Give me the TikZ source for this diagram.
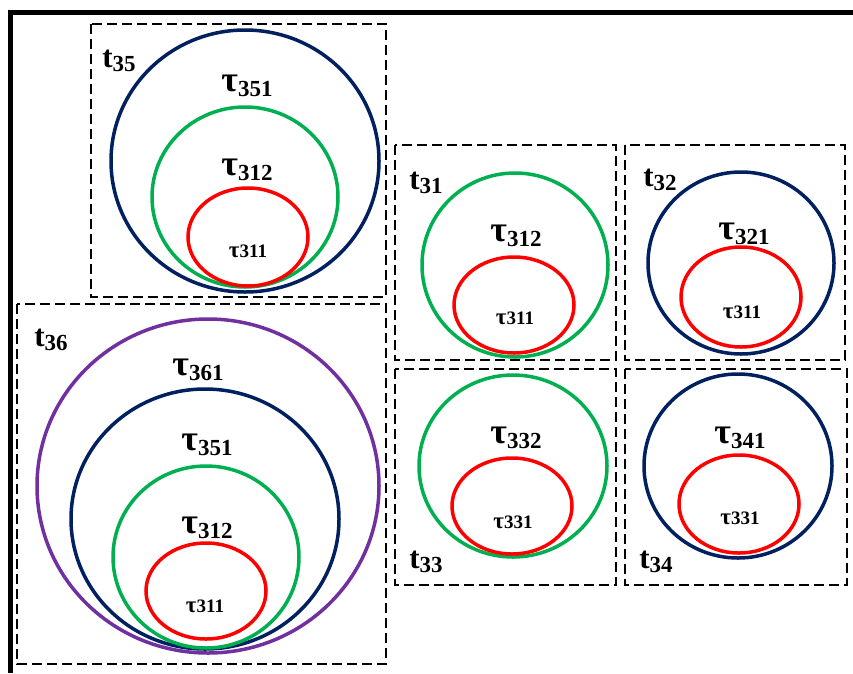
\documentclass[tikz,border=0pt]{standalone}
\usepackage{fontspec}
\setmainfont{Liberation Serif}
\definecolor{navyc}{HTML}{002060}
\definecolor{greenc}{HTML}{00B050}
\definecolor{redc}{HTML}{FF0000}
\definecolor{purplec}{HTML}{7030A0}
\newcommand{\bigtau}[1]{{\fontsize{36}{36}\selectfont τ}\raisebox{-5pt}{\fontsize{23}{23}\selectfont #1}}
\newcommand{\smalltau}[1]{{\fontsize{23}{23}\selectfont τ}{\fontsize{19}{19}\selectfont #1}}
\newcommand{\tlab}[1]{{\fontsize{31}{31}\selectfont t}\raisebox{-4pt}{\fontsize{23}{23}\selectfont #1}}
\begin{document}
\begin{tikzpicture}[x=1pt,y=-1pt,
  dbox/.style={draw=black,line width=1.9pt,dash pattern=on 10pt off 5pt},
  ring/.style={line width=3.5pt},
  lab/.style={inner sep=0pt,font=\bfseries}]
\useasboundingbox (0,0) rectangle (853,673);
\fill[white] (0,0) rectangle (853,673);
% frame
\draw[line width=5pt] (10,673) -- (10,12) -- (853,12);
% boxes
\draw[dbox] (91,24) rectangle (386,297);
\draw[dbox] (17,304) rectangle (386,664);
\draw[dbox] (395,145) rectangle (616,360);
\draw[dbox] (625,145) rectangle (845,360);
\draw[dbox] (395,369) rectangle (616,585);
\draw[dbox] (625,369) rectangle (847,585);
% t35
\draw[ring,navyc] (245,161) ellipse [x radius=134pt,y radius=131pt];
\draw[ring,greenc] (245,197) ellipse [x radius=93pt,y radius=90pt];
\draw[ring,redc] (248,237) ellipse [x radius=60pt,y radius=49pt];
\node[lab] (t35) at (119,61) {\tlab{35}};
\node[lab] (a351) at (247,86) {\bigtau{351}};
\node[lab] (a312) at (247,170) {\bigtau{312}};
\node[lab] (a311) at (248,251) {\smalltau{311}};
% t36
\draw[ring,purplec] (208,486) ellipse [x radius=171pt,y radius=167pt];
\draw[ring,navyc] (205,519) ellipse [x radius=134pt,y radius=130pt];
\draw[ring,greenc] (206,557) ellipse [x radius=93pt,y radius=91pt];
\draw[ring,redc] (206,591) ellipse [x radius=60pt,y radius=48pt];
\node[lab] (t36) at (51,340) {\tlab{36}};
\node[lab] (b361) at (198,370) {\bigtau{361}};
\node[lab] (b351) at (207,445) {\bigtau{351}};
\node[lab] (b312) at (207,528) {\bigtau{312}};
\node[lab] (b311) at (205,606) {\smalltau{311}};
% t31
\draw[ring,greenc] (515,265) ellipse [x radius=93pt,y radius=92pt];
\draw[ring,redc] (514,305) ellipse [x radius=60pt,y radius=48pt];
\node[lab] (t31) at (426,183) {\tlab{31}};
\node[lab] (c312) at (516,236) {\bigtau{312}};
\node[lab] (c311) at (515,318) {\smalltau{311}};
% t32
\draw[ring,navyc] (741,263) ellipse [x radius=93pt,y radius=91pt];
\draw[ring,redc] (741,297) ellipse [x radius=60pt,y radius=50pt];
\node[lab] (t32) at (660,180) {\tlab{32}};
\node[lab] (d321) at (744,234) {\bigtau{321}};
\node[lab] (d311) at (742,312) {\smalltau{311}};
% t33
\draw[ring,greenc] (513,466) ellipse [x radius=94pt,y radius=91pt];
\draw[ring,redc] (512,506) ellipse [x radius=60pt,y radius=48pt];
\node[lab] (t33) at (426,562) {\tlab{33}};
\node[lab] (e332) at (516,438) {\bigtau{332}};
\node[lab] (e331) at (513,522) {\smalltau{331}};
% t34
\draw[ring,navyc] (738,466) ellipse [x radius=94pt,y radius=92pt];
\draw[ring,redc] (739,504) ellipse [x radius=60pt,y radius=49pt];
\node[lab] (t34) at (656,562) {\tlab{34}};
\node[lab] (f341) at (740,438) {\bigtau{341}};
\node[lab] (f331) at (740,518) {\smalltau{331}};
\end{tikzpicture}
\end{document}
